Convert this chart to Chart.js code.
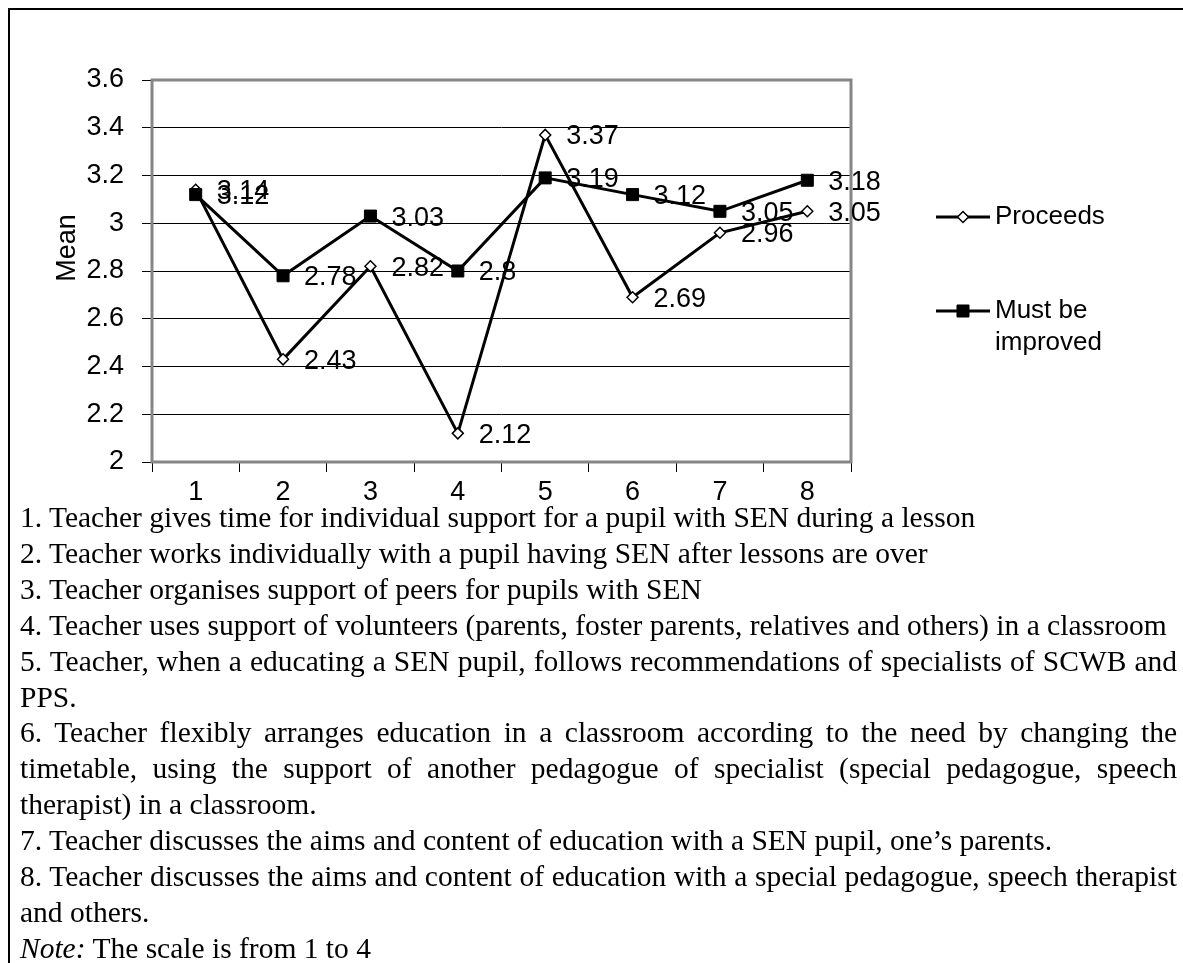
<!DOCTYPE html>
<html>
<head>
<meta charset="utf-8">
<script src="https://cdn.jsdelivr.net/npm/chart.js@4.4.1/dist/chart.umd.min.js"></script>
<style>
  html, body { margin: 0; padding: 0; background: #fff; }
  #page { position: relative; width: 1183px; height: 963px; overflow: hidden; }
  #frame { position: absolute; left: 8px; top: 8px; width: 1300px; height: 1100px;
           border-top: 2px solid #000; border-left: 2px solid #000; }
  #chart { position: absolute; left: 0; top: 0; }
  #notes { position: absolute; left: 20px; top: 500px; width: 1157px;
           font-family: "Liberation Serif", "Times New Roman", serif; font-size: 29.5px;
           line-height: 35.9px; color: #000; text-align: justify; }
  #notes p { margin: 0; }
</style>
</head>
<body>
<div id="page">
  <div id="frame"></div>
  <canvas id="chart" width="1183" height="510"></canvas>
  <div id="notes">
    <p>1. Teacher gives time for individual support for a pupil with SEN during a lesson</p>
    <p>2. Teacher works individually with a pupil having SEN after lessons are over</p>
    <p>3. Teacher organises support of peers for pupils with SEN</p>
    <p>4. Teacher uses support of volunteers (parents, foster parents, relatives and others) in a classroom</p>
    <p>5. Teacher, when a educating a SEN pupil, follows recommendations of specialists of SCWB and PPS.</p>
    <p>6. Teacher flexibly arranges education in a classroom according to the need by changing the timetable, using the support of another pedagogue of specialist (special pedagogue, speech therapist) in a classroom.</p>
    <p>7. Teacher discusses the aims and content of education with a SEN pupil, one’s parents.</p>
    <p>8. Teacher discusses the aims and content of education with a special pedagogue, speech therapist and others.</p>
    <p><i>Note:</i> The scale is from 1 to 4</p>
  </div>
</div>
<script>
const categories = ["1", "2", "3", "4", "5", "6", "7", "8"];
const proceeds = [3.14, 2.43, 2.82, 2.12, 3.37, 2.69, 2.96, 3.05];
const mustBeImproved = [3.12, 2.78, 3.03, 2.8, 3.19, 3.12, 3.05, 3.18];
const seriesNames = ["Proceeds", "Must be improved"];
const yMin = 2;
const yMax = 3.6;
const yStep = 0.2;
const yTitle = "Mean";

const FONT = "'Liberation Sans', Arial, sans-serif";

// value labels to the right of each point
const valueLabels = {
  id: "valueLabels",
  afterDatasetsDraw(chart) {
    const ctx = chart.ctx;
    ctx.save();
    ctx.font = "27px " + FONT;
    ctx.fillStyle = "#000";
    ctx.textAlign = "left";
    ctx.textBaseline = "middle";
    [1, 0].forEach(i => {
      const meta = chart.getDatasetMeta(i);
      meta.data.forEach((pt, j) => {
        ctx.fillText(String(chart.data.datasets[i].data[j]), pt.x + 21, pt.y + 2);
      });
    });
    ctx.restore();
  }
};

// grey plot border, y title and the legend on the right
const frameAndLegend = {
  id: "frameAndLegend",
  beforeDatasetsDraw(chart) {
    const { ctx, chartArea: a } = chart;
    ctx.save();
    ctx.strokeStyle = "#868686";
    ctx.lineWidth = 3;
    ctx.strokeRect(a.left, a.top, a.right - a.left, a.bottom - a.top);
    ctx.restore();
  },
  afterDraw(chart) {
    const { ctx, chartArea: a } = chart;
    ctx.save();
    // axis title
    ctx.font = "27px " + FONT;
    ctx.fillStyle = "#000";
    ctx.textAlign = "center";
    ctx.textBaseline = "middle";
    ctx.translate(68, (a.top + a.bottom) / 2 - 23);
    ctx.rotate(-Math.PI / 2);
    ctx.fillText(yTitle, 0, 0);
    ctx.restore();

    // legend
    ctx.save();
    ctx.font = "26px " + FONT;
    const x0 = a.right + 85;
    const rows = [217, 311];
    chart.data.datasets.forEach((ds, i) => {
      const y = rows[i];
      ctx.strokeStyle = "#000";
      ctx.lineWidth = 3;
      ctx.beginPath();
      ctx.moveTo(x0, y);
      ctx.lineTo(x0 + 54, y);
      ctx.stroke();
      ctx.fillStyle = ds.pointBackgroundColor;
      ctx.strokeStyle = ds.pointBorderColor;
      ctx.lineWidth = ds.pointBorderWidth;
      Chart.helpers.drawPoint(ctx, { pointStyle: ds.pointStyle, radius: ds.pointRadius, rotation: 0, borderWidth: ds.pointBorderWidth }, x0 + 27, y);
      // wrap label text
      const words = ds.label.split(" ");
      const lines = [];
      let cur = "";
      words.forEach(w => {
        const t = cur ? cur + " " + w : w;
        if (ctx.measureText(t).width > 130 && cur) { lines.push(cur); cur = w; } else { cur = t; }
      });
      lines.push(cur);
      ctx.fillStyle = "#000";
      ctx.textAlign = "left";
      ctx.textBaseline = "middle";
      lines.forEach((ln, k) => ctx.fillText(ln, x0 + 59, y + k * 32));
    });
    ctx.restore();
  }
};

new Chart(document.getElementById("chart"), {
  type: "line",
  data: {
    labels: categories,
    datasets: [
      {
        label: seriesNames[0],
        data: proceeds,
        borderColor: "#000",
        borderWidth: 3,
        pointStyle: "rectRot",
        pointRadius: 5.5,
        pointBackgroundColor: "#fff",
        pointBorderColor: "#000",
        pointBorderWidth: 1.5,
        tension: 0,
        order: 1
      },
      {
        label: seriesNames[1],
        data: mustBeImproved,
        borderColor: "#000",
        borderWidth: 3,
        pointStyle: "rect",
        pointRadius: 8.5,
        pointBackgroundColor: "#000",
        pointBorderColor: "#000",
        pointBorderWidth: 1,
        tension: 0,
        order: 0
      }
    ]
  },
  options: {
    responsive: false,
    animation: false,
    layout: { padding: { left: 40, top: 80, right: 332, bottom: 0 } },
    plugins: {
      legend: { display: false },
      tooltip: { enabled: false }
    },
    scales: {
      x: {
        offset: true,
        grid: { offset: true, drawOnChartArea: false, drawTicks: true, tickLength: 10, color: "#000", lineWidth: 1 },
        border: { display: false },
        ticks: { color: "#000", font: { family: FONT, size: 27 }, padding: 4, maxRotation: 0 },
        afterFit(scale) { scale.height = 48; }
      },
      y: {
        min: yMin,
        max: yMax,
        grid: { color: "#000", lineWidth: 1, tickLength: 10 },
        border: { display: false },
        ticks: {
          stepSize: yStep,
          color: "#000",
          font: { family: FONT, size: 27 },
          padding: 18,
          callback: v => String(Number(v.toFixed(1)))
        },
        afterFit(scale) { scale.width = 112; }
      }
    }
  },
  plugins: [valueLabels, frameAndLegend]
});
</script>
</body>
</html>
